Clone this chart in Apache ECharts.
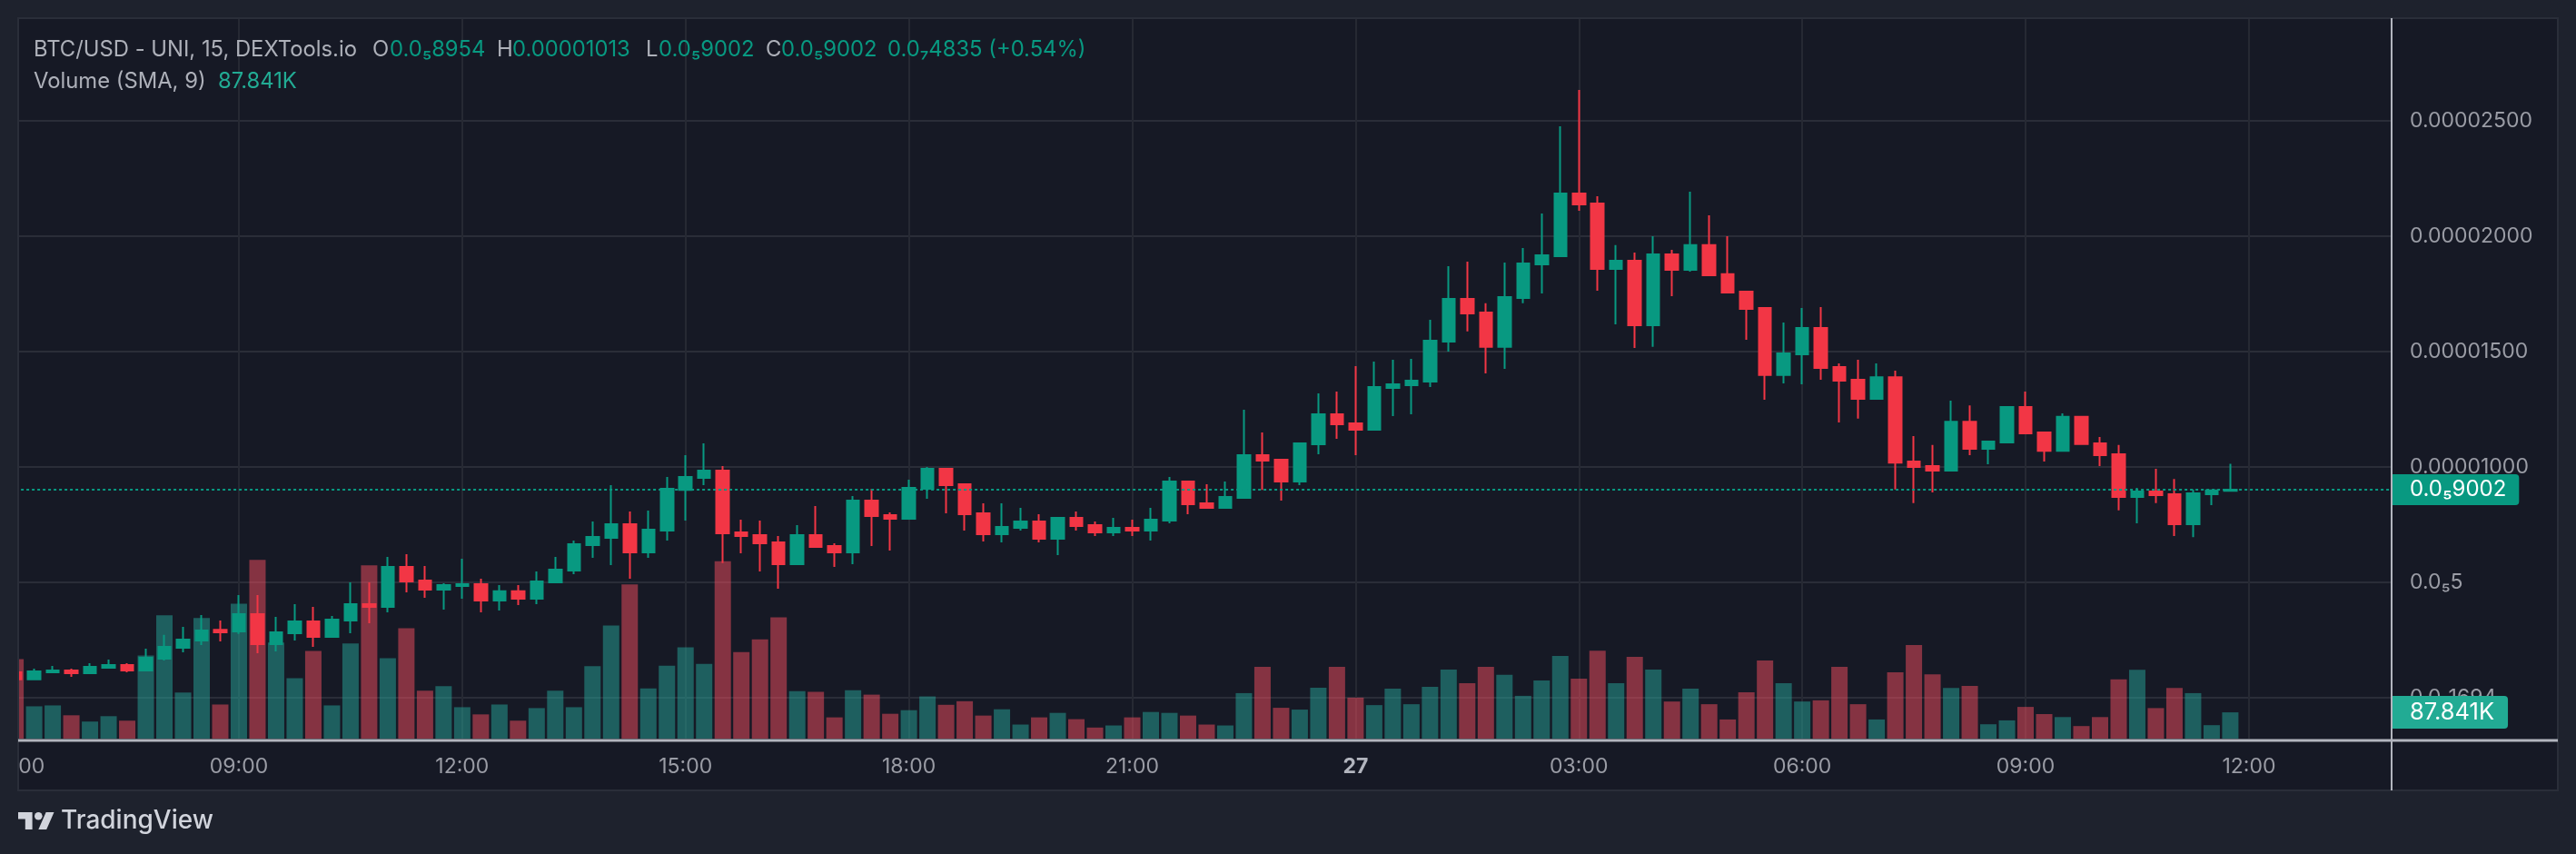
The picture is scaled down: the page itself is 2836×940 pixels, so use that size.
<!DOCTYPE html>
<html><head><meta charset="utf-8">
<style>html,body{margin:0;padding:0;background:#1e222d}#c{width:2836px;height:940px}</style>
<script src="https://cdn.jsdelivr.net/npm/echarts@6/dist/echarts.min.js"></script>
</head><body><div id="c"></div>
<script>
// Prices are in millionths (1 = 0.000001), volumes in thousands.
const opens = [1.09,.79,1.09,1.17,1.05,1.29,1.41,1.17,1.68,2.15,
2.47,2.93,2.86,3.61,2.31,2.78,3.30,2.63,3.33,4.04,
3.93,5.66,5.07,4.67,4.83,4.91,4.20,4.60,4.28,4.99,
5.50,6.60,6.92,7.51,6.29,7.23,8.99,9.52,9.83,7.15,
7.04,6.72,5.78,7.04,6.56,6.29,8.53,7.90,7.74,9.04,
9.91,9.24,7.98,7.07,7.35,7.63,6.88,7.78,7.47,7.15,
7.35,7.23,7.67,9.36,8.41,8.22,8.65,10.50,10.30,9.36,
10.97,12.27,11.88,11.60,13.41,13.53,13.69,15.42,17.27,16.68,
15.19,17.31,18.77,19.12,21.84,21.41,18.57,18.93,16.13,19.20,
18.53,19.60,18.34,17.59,16.88,13.97,14.87,16.01,14.32,13.77,
12.94,13.88,10.22,10.03,9.83,11.95,10.78,11.05,12.59,11.48,
10.69,12.16,11.01,10.54,8.69,8.93,8.81,7.51,8.81,8.954];
const closes = [.79,1.13,1.17,1.05,1.33,1.41,1.17,1.72,2.19,2.51,
2.90,2.82,3.61,2.31,2.82,3.30,2.63,3.37,4.04,3.93,
5.66,5.03,4.67,4.87,4.91,4.20,4.60,4.28,5.03,5.54,
6.64,6.96,7.51,6.29,7.27,9.04,9.56,9.83,7.11,7.00,
6.68,5.78,7.04,6.52,6.29,8.53,7.86,7.74,9.08,9.91,
9.20,7.94,7.07,7.39,7.63,6.88,7.78,7.43,7.15,7.35,
7.23,7.70,9.36,8.37,8.22,8.69,10.50,10.26,9.36,11.01,
12.27,11.84,11.60,13.45,13.57,13.73,15.46,17.27,16.64,15.19,
17.35,18.81,19.16,21.84,21.37,18.57,18.93,16.13,19.20,18.53,
19.60,18.30,17.55,16.84,13.97,14.91,16.01,14.28,13.73,12.94,
13.88,10.18,9.99,9.83,11.95,10.78,11.09,12.59,11.44,10.69,
12.16,10.98,10.50,8.69,8.93,8.77,7.51,8.85,8.97,9.002];
const highs = [1.09,1.25,1.37,1.25,1.48,1.64,1.48,2.11,2.71,3.06,
3.57,3.33,4.44,4.44,3.49,4.04,3.93,3.53,4.99,4.99,
6.09,6.21,5.70,4.95,6.01,5.15,4.87,4.87,5.46,6.09,
6.80,7.63,9.20,8.06,8.10,9.56,10.50,11.01,10.03,7.70,
7.67,7.00,7.47,8.30,6.68,8.73,9.04,8.02,9.44,9.99,
9.91,9.24,8.41,8.41,8.22,7.94,7.78,8.06,7.63,7.78,
7.70,8.22,9.56,9.40,9.24,9.36,12.47,11.48,10.30,11.01,
13.18,13.26,14.36,14.56,14.63,14.67,16.37,18.69,18.89,17.08,
18.85,19.48,20.97,24.75,26.33,21.72,19.60,19.28,19.99,19.40,
21.92,20.89,19.99,17.59,16.88,16.25,16.88,16.92,14.48,14.63,
14.48,14.16,11.33,10.94,12.86,12.66,11.09,12.63,13.26,11.52,
12.31,12.20,11.29,10.94,9.08,9.91,9.47,9.01,9.01,10.13];
const lows = [.79,.79,1.09,.89,1.01,1.25,1.09,1.17,1.60,1.96,
2.27,2.43,2.75,1.92,2.00,2.47,2.19,2.63,2.78,3.22,
3.69,4.56,4.32,3.81,4.28,3.69,3.77,4.00,4.04,4.99,
5.34,6.05,5.74,5.15,6.05,6.80,7.67,9.20,5.82,6.25,
5.46,4.71,5.78,6.52,5.66,5.78,6.56,6.37,7.74,8.61,
7.98,7.23,6.76,6.72,7.23,6.72,6.17,7.23,7.00,7.00,
7.00,6.80,7.55,7.94,8.22,8.22,8.65,8.99,8.53,9.20,
10.54,11.21,10.50,11.60,12.19,12.27,13.45,14.99,15.86,14.04,
14.24,17.08,17.51,19.08,21.09,17.63,16.17,15.15,15.19,17.39,
18.45,18.30,17.55,15.50,12.90,13.61,13.57,13.77,11.92,12.08,
12.94,9.01,8.42,8.89,9.83,10.50,10.11,11.05,11.44,10.22,
10.65,10.98,10.03,8.11,7.55,8.42,7.00,6.95,8.33,8.954];
const volumes = [266,108,111,78,57,75,60,278,412,154,
403,114,451,597,321,202,293,111,318,579,
269,369,160,175,105,81,114,60,102,160,
105,242,378,515,168,244,305,250,593,289,
332,405,159,156,71,162,147,83,95,141,
113,125,77,98,47,71,86,65,37,44,
71,89,86,77,47,44,152,240,103,97,
170,240,137,112,167,115,173,231,185,240,
213,143,194,276,200,294,185,273,231,124,
167,115,64,155,261,185,124,128,240,115,
64,222,313,215,169,176,48,61,106,82,
72,42,72,198,230,102,169,152,45,87.841];
const timeLabels = ['06:00','09:00','12:00','15:00','18:00','21:00','27','03:00','06:00','09:00','12:00'];
const priceTicks = [0,5,10,15,20,25];
const priceLabels = ['0.0₆1694','0.0₅5','0.00001000','0.00001500','0.00002000','0.00002500'];
const lastPrice = 9.002, lastPriceLabel = '0.0₅9002';
const lastVolume = 87.841, lastVolumeLabel = '87.841K';

const FONT = 'Inter';
const UP = '#089981', DOWN = '#f23645';
const muted = '#adb0b9', green = '#089981', teal = '#22ab94';
const L = 17.1, R = 2633, T = 20, B = 813;           // plot box in page pixels

const headerSegs = [
  ['BTC/USD - UNI, 15, DEXTools.io', 37, muted], ['O', 410, muted],
  ['0.0₅8954', 429, green], ['H', 547, muted], ['0.00001013', 564, green],
  ['L', 711, muted], ['0.0₅9002', 725, green], ['C', 843, muted],
  ['0.0₅9002', 860, green], ['0.0₇4835 (+0.54%)', 977, green]
];
const txt = (t, x, y, fill, size, weight, z) => ({type:'text', x, y, z: z||50,
  style:{text:t, fill, fontSize:size, fontFamily:FONT, fontWeight:weight||400, textVerticalAlign:'middle', textBaseline:'middle'}});

const graphic = [
  {type:'rect', z:-5, shape:{x:21,y:21,width:2794,height:848}, style:{fill:'#161925'}},
  {type:'rect', z:90, shape:{x:0,y:0,width:20,height:900}, style:{fill:'#1e222d'}},
  {type:'rect', z:91, shape:{x:20,y:20,width:2796,height:850}, style:{fill:'none',stroke:'#2a2e39',lineWidth:2}},
  {type:'line', z:92, shape:{x1:2633,y1:20,x2:2633,y2:870}, style:{stroke:'#b2b5be',lineWidth:2}},
  {type:'line', z:92, shape:{x1:20,y1:815,x2:2816,y2:815}, style:{stroke:'#b2b5be',lineWidth:3}},
  {type:'polygon', z:92, shape:{points:[[35.6,913],[27.8,913],[27.8,901.4],[20,901.4],[20,894],[35.6,894]]}, style:{fill:'#d1d4dc'}},
  {type:'polygon', z:92, shape:{points:[[51.2,913],[42.3,913],[50.6,894],[59.5,894]]}, style:{fill:'#d1d4dc'}},
  {type:'circle', z:92, shape:{cx:42.3,cy:898.2,r:4.3}, style:{fill:'#d1d4dc'}},
  txt('TradingView', 67, 904, '#d1d4dc', 28, 500),
  ...headerSegs.map(s => txt(s[0], s[1], 55, s[2], 23.8)),
  txt('Volume (SMA, 9)', 37, 90, muted, 23.8),
  txt(lastVolumeLabel, 240, 90, teal, 23.8)
];

const indices = opens.map((_, i) => i);
const candleData = indices.map(i => [i, opens[i], closes[i], lows[i], highs[i]]);
const volumeData = indices.map(i => ({value:[i, volumes[i]],
  itemStyle:{color: closes[i] >= opens[i] ? '#26a69a' : '#f44e60', opacity:.5}}));

const tag = (name, bg, size, padRight) => ({show:true, position:'end', distance:0, formatter:name, color:'#fff',
  fontFamily:FONT, fontSize:size, backgroundColor:bg, borderRadius:[0,4,4,0], padding:[5,padRight,5,20]});

const chart = echarts.init(document.getElementById('c'), null, {renderer:'canvas'});
const gridLine = {show:true, lineStyle:{color:'#2a2d38', width:2}};
chart.setOption({
  animation:false,
  backgroundColor:'#1e222d',
  graphic,
  grid:{left:L, top:T, width:R-L, height:B-T, containLabel:false, outerBoundsMode:'none'},
  xAxis:{type:'value', min:0, max:(R-L)/20.49, interval:12, containShape:false,
    axisLine:{show:false}, axisTick:{show:false},
    splitLine:{show:true, lineStyle:{color:'#262933', width:2}},
    axisLabel:{margin:20, color:'#9a9ca5', fontFamily:FONT, fontSize:23, showMinLabel:true, showMaxLabel:false,
      formatter:v => { const t = timeLabels[Math.round(v/12)];
        return v % 12 ? '' : (t === '27' ? '{b|27}' : t); },
      rich:{b:{fontWeight:700, fontFamily:FONT, fontSize:23, color:'#b2b5be'}}}},
  yAxis:[
    {type:'value', position:'right', min:25-(B-132.7)/25.4, max:25+(132.7-T)/25.4,
      axisLine:{show:false}, axisTick:{show:false, customValues:priceTicks}, splitLine:gridLine,
      axisLabel:{customValues:priceTicks, margin:20, color:'#9a9ca5', fontFamily:FONT, fontSize:23,
        formatter:v => priceLabels[priceTicks.indexOf(Math.round(v))] ?? ''}},
    {type:'value', position:'right', min:0, max:(B-T)*3.036, show:false, splitLine:{show:false}}
  ],
  series:[
    {type:'bar', name:'Volume', yAxisIndex:1, z:1, barWidth:18, data:volumeData, silent:true,
      markLine:{silent:true, symbol:'none', lineStyle:{color:'rgba(0,0,0,0)', width:0}, z:20,
        data:[{yAxis:lastVolume}], label:tag(lastVolumeLabel, teal, 25.5, 15)}},
    {type:'candlestick', name:'BTC/USD - UNI', yAxisIndex:0, z:3, barWidth:14,
      encode:{x:0, y:[1,2,3,4]}, data:candleData, silent:true,
      itemStyle:{color:UP, color0:DOWN, borderColor:UP, borderColor0:DOWN, borderWidth:2},
      markLine:{silent:true, symbol:'none', z:10,
        lineStyle:{color:UP, type:[3,3], width:2, opacity:1},
        data:[{yAxis:lastPrice}], label:tag(lastPriceLabel, UP, 24, 14)}}
  ]
});
</script></body></html>
